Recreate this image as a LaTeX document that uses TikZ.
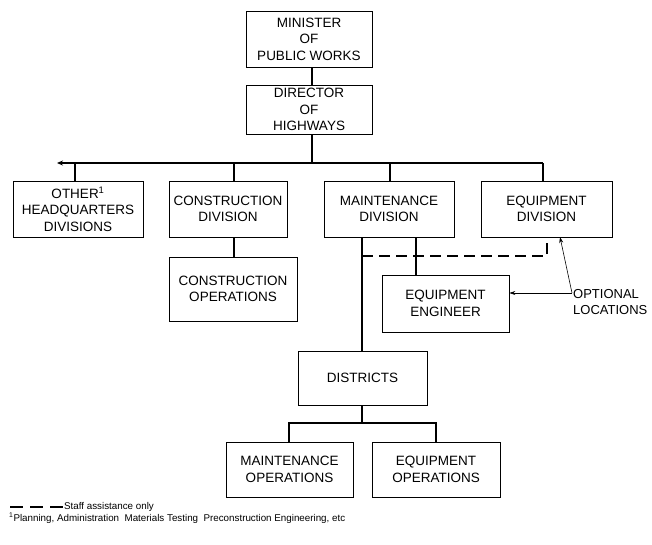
\documentclass[tikz,border=0pt]{standalone}
\usepackage{fontspec}
\setmainfont{Liberation Sans}
\usetikzlibrary{arrows.meta}
\begin{document}
\begin{tikzpicture}[x=1pt,y=-1pt,
  box/.style={draw, line width=0.7pt, inner sep=0pt, align=center,
    font=\fontsize{13.5}{16.5}\selectfont},
  conn/.style={line width=1.1pt},
  thinline/.style={line width=0.6pt},
  note/.style={anchor=west, inner sep=0pt, font=\fontsize{9.8}{11}\selectfont}]
\useasboundingbox (0,0) rectangle (652,544);
% boxes
\node[box, minimum width=126pt, minimum height=56pt] (min) at (309,39) {MINISTER\\OF\\PUBLIC WORKS};
\node[box, minimum width=126pt, minimum height=49pt] (dir) at (309,109.5) {DIRECTOR\\OF\\HIGHWAYS};
\node[box, minimum width=130pt, minimum height=56pt] (oth) at (78,209) {OTHER\textsuperscript{1}\\HEADQUARTERS\\DIVISIONS};
\node[box, minimum width=118pt, minimum height=56pt] (cdv) at (228,209) {CONSTRUCTION\\DIVISION};
\node[box, minimum width=130pt, minimum height=56pt] (mdv) at (389,209) {MAINTENANCE\\DIVISION};
\node[box, minimum width=131pt, minimum height=56pt] (edv) at (546.5,209) {EQUIPMENT\\DIVISION};
\node[box, minimum width=128pt, minimum height=64pt] (cop) at (233,289) {CONSTRUCTION\\OPERATIONS};
\node[box, minimum width=127pt, minimum height=57pt] (eng) at (445.5,303.5) {EQUIPMENT\\ENGINEER};
\node[box, minimum width=129pt, minimum height=54pt] (dst) at (362.5,378) {DISTRICTS};
\node[box, minimum width=127pt, minimum height=55pt] (mop) at (289.5,469.5) {MAINTENANCE\\OPERATIONS};
\node[box, minimum width=128pt, minimum height=55pt] (eop) at (436,469.5) {EQUIPMENT\\OPERATIONS};
\node[anchor=west, inner sep=0pt, align=left, font=\fontsize{13}{16.5}\selectfont] (opttxt) at (573,302) {OPTIONAL\\LOCATIONS};
% coordinates
\coordinate (top) at (312,39);
\coordinate (busL) at (57,163);
\coordinate (busR) at (543,163);
\coordinate (bDir) at (312,163);
\coordinate (bOth) at (75,163);
\coordinate (bCon) at (234,163);
\coordinate (bMnt) at (390,163);
\coordinate (mA) at (362,237);
\coordinate (mB) at (416,237);
\coordinate (dashL) at (362,256);
\coordinate (dashR) at (547,256);
\coordinate (dsplit) at (362,423);
\coordinate (sL) at (289,423);
\coordinate (sR) at (436,423);
\coordinate (opt) at (572,293);
\coordinate (optUp) at (560,237);
\coordinate (lg1) at (10,507);
\coordinate (lg2) at (63,507);
% connectors
\draw[conn] (top |- min.south) -- (top |- dir.north);
\draw[conn] (top |- dir.south) -- (bDir);
\draw[conn, -{Stealth[length=6pt,width=5pt]}] (busR) -- (busL);
\draw[conn] (bOth) -- (bOth |- oth.north);
\draw[conn] (bCon) -- (bCon |- cdv.north);
\draw[conn] (bMnt) -- (bMnt |- mdv.north);
\draw[conn] (busR) -- (busR |- edv.north);
\draw[conn] (bCon |- cdv.south) -- (bCon |- cop.north);
\draw[conn] (mA) -- (mA |- dst.north);
\draw[conn] (mB) -- (mB |- eng.north);
\draw[conn, dash pattern=on 11pt off 6pt] (dashL) -- (dashR) -- (dashR |- edv.south);
\draw[conn] (dsplit |- dst.south) -- (dsplit);
\draw[conn] (sL |- mop.north) -- (sL) -- (sR) -- (sR |- eop.north);
\draw[thinline, -{Stealth[length=6pt,width=4pt]}] (opt) -- (opt -| eng.east);
\draw[thinline, -{Stealth[length=6pt,width=4pt]}] (opt) -- (optUp);
% legend
\draw[conn, dash pattern=on 13pt off 7pt] (lg1) -- (lg2);
\node[note] (lgt) at (64,507) {Staff assistance only};
\node[note] (fn) at (9,518) {\textsuperscript{1}Planning, Administration\ \ Materials Testing\ \ Preconstruction Engineering, etc};
\end{tikzpicture}
\end{document}
